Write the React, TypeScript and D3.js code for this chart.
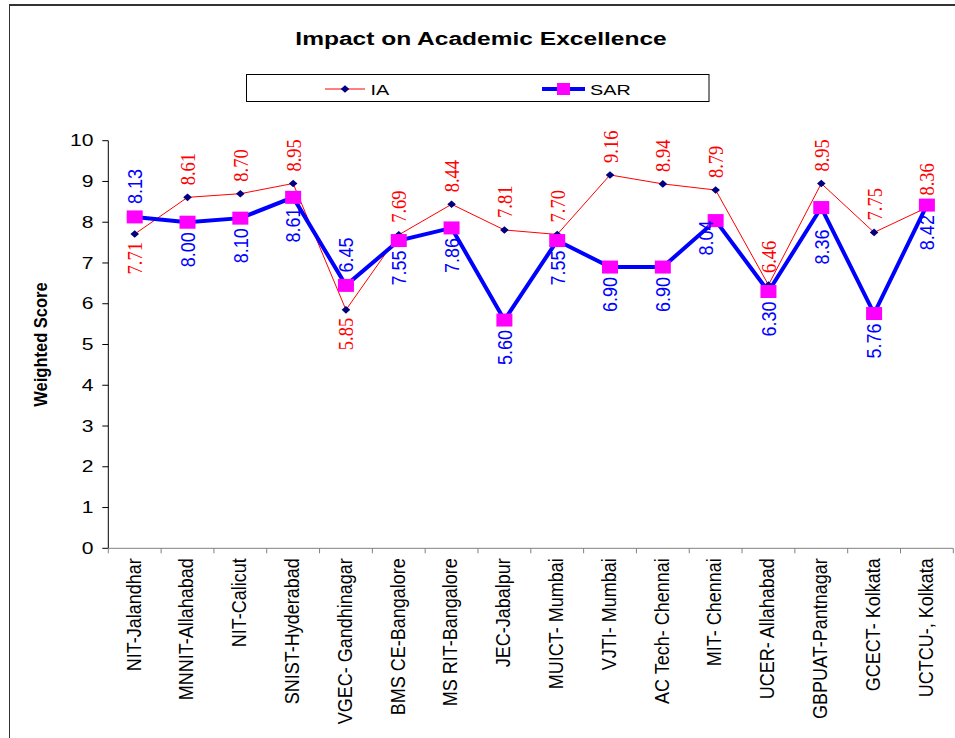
import React from "react";
import * as d3 from "d3";

const categories = [
  "NIT-Jalandhar",
  "MNNIT-Allahabad",
  "NIT-Calicut",
  "SNIST-Hyderabad",
  "VGEC- Gandhinagar",
  "BMS CE-Bangalore",
  "MS RIT-Bangalore",
  "JEC-Jabalpur",
  "MUICT- Mumbai",
  "VJTI- Mumbai",
  "AC Tech- Chennai",
  "MIT- Chennai",
  "UCER- Allahabad",
  "GBPUAT-Pantnagar",
  "GCECT- Kolkata",
  "UCTCU-, Kolkata",
];
const iaValues = [7.71, 8.61, 8.7, 8.95, 5.85, 7.69, 8.44, 7.81, 7.7, 9.16, 8.94, 8.79, 6.46, 8.95, 7.75, 8.36];
const sarValues = [8.13, 8.0, 8.1, 8.61, 6.45, 7.55, 7.86, 5.6, 7.55, 6.9, 6.9, 8.04, 6.3, 8.36, 5.76, 8.42];
const iaLabelSide = ["below", "above", "above", "above", "below", "above", "above", "above", "above", "above", "above", "above", "above", "above", "above", "above"];
const sarLabelSide = ["above", "below", "below", "below", "above", "below", "below", "below", "below", "below", "below", "belowLeft", "below", "belowFar", "below", "below"];
const yTicks = [0, 1, 2, 3, 4, 5, 6, 7, 8, 9, 10];

const SANS = "'Liberation Sans', Arial, sans-serif";
const SERIF = "'Liberation Serif', 'Times New Roman', serif";

export default function App() {
  const W = 955;
  const H = 738;
  const left = 108.3;
  const right = 953.3;
  const top = 140.7;
  const bottom = 548.3;

  const x = d3.scaleBand<string>().domain(categories).range([left, right]).padding(0);
  const y = d3.scaleLinear().domain([0, 10]).range([bottom, top]);
  const cx = (i: number) => (x(categories[i]) as number) + x.bandwidth() / 2;

  const line = d3
    .line<number>()
    .x((_, i) => cx(i))
    .y((d) => y(d));

  const HS = 1.16; // glyph stretch for rotated text
  const HX = 1.32; // horizontal stretch for horizontal text

  const diamond = (px: number, py: number) =>
    `M${px},${py - 3.8}L${px + 4.3},${py}L${px},${py + 3.8}L${px - 4.3},${py}Z`;

  const rotText = (
    key: string,
    px: number,
    py: number,
    txt: string,
    anchor: "start" | "end",
    fill: string,
    family: string,
    size: number,
    weight = "normal"
  ) => (
    <text
      key={key}
      transform={`translate(${px},${py}) rotate(-90) scale(1,${HS})`}
      textAnchor={anchor}
      dy="0.35em"
      fill={fill}
      fontFamily={family}
      fontSize={size}
      fontWeight={weight}
    >
      {txt}
    </text>
  );

  return (
    <svg
      width={W}
      height={H}
      style={{ position: "absolute", left: 0, top: 0, background: "#fff" }}
    >
      {/* outer frame */}
      <line x1={9} y1={5} x2={W} y2={5} stroke="#333" strokeWidth={2} />
      <line x1={9.5} y1={5} x2={9.5} y2={H} stroke="#333" strokeWidth={1} />

      {/* title */}
      <text
        transform={`translate(481,45) scale(${HX},1)`}
        textAnchor="middle"
        fontFamily={SANS}
        fontWeight="bold"
        fontSize={18.6}
        fill="#000"
      >
        Impact on Academic Excellence
      </text>

      {/* legend */}
      <rect x={246.5} y={74.5} width={462.5} height={27} fill="#fff" stroke="#000" strokeWidth={1} />
      <line x1={325} y1={89} x2={365} y2={89} stroke="#ff0000" strokeWidth={1} />
      <path d={diamond(345, 89)} fill="#000080" />
      <text transform={`translate(370.5,94.5) scale(${HX},1)`} fontFamily={SANS} fontSize={15} fill="#000">
        IA
      </text>
      <line x1={542} y1={89} x2={585} y2={89} stroke="#0000ff" strokeWidth={4} />
      <rect x={557} y={83} width={13} height={12} fill="#ff00ff" />
      <text transform={`translate(590,94.5) scale(${HX},1)`} fontFamily={SANS} fontSize={15} fill="#000">
        SAR
      </text>

      {/* y axis */}
      <line x1={left} y1={top} x2={left} y2={bottom} stroke="#000" strokeWidth={1} />
      {yTicks.map((t) => (
        <g key={"yt" + t}>
          <line x1={left - 6} y1={y(t)} x2={left} y2={y(t)} stroke="#000" strokeWidth={1} />
          <text
            transform={`translate(93.5,${y(t)}) scale(${HX},1)`}
            textAnchor="end"
            dy="0.35em"
            fontFamily={SANS}
            fontSize={16}
            fill="#000"
          >
            {t}
          </text>
        </g>
      ))}
      <text
        transform={`translate(40,${(top + bottom) / 2}) rotate(-90) scale(1,${HS})`}
        textAnchor="middle"
        dy="0.35em"
        fontFamily={SANS}
        fontWeight="bold"
        fontSize={16.5}
        fill="#000"
      >
        Weighted Score
      </text>

      {/* x axis */}
      <line x1={left} y1={bottom} x2={right} y2={bottom} stroke="#808080" strokeWidth={1} />
      {categories.map((c, i) => (
        <line
          key={"xt" + i}
          x1={(x(c) as number)}
          x2={(x(c) as number)}
          y1={bottom}
          y2={bottom + 5}
          stroke="#808080"
          strokeWidth={1}
        />
      ))}
      <line x1={right} x2={right} y1={bottom} y2={bottom + 5} stroke="#808080" strokeWidth={1} />
      {categories.map((c, i) =>
        rotText("xl" + i, cx(i) - 1.5, bottom + 10, c, "end", "#000", SANS, 18)
      )}

      {/* IA series */}
      <path d={line(iaValues) || ""} fill="none" stroke="#ff0000" strokeWidth={1} />
      {iaValues.map((v, i) => (
        <path key={"iam" + i} d={diamond(cx(i), y(v))} fill="#000080" />
      ))}

      {/* SAR series */}
      <path d={line(sarValues) || ""} fill="none" stroke="#0000ff" strokeWidth={4} strokeLinejoin="miter" />
      {sarValues.map((v, i) => (
        <rect key={"sarm" + i} x={cx(i) - 8} y={y(v) - 6.5} width={16} height={13} fill="#ff00ff" />
      ))}

      {/* IA labels */}
      {iaValues.map((v, i) => {
        const side = iaLabelSide[i];
        const py = y(v);
        return side === "above"
          ? rotText("ial" + i, cx(i), py - 12, v.toFixed(2), "start", "#ff0000", SERIF, 18.5)
          : rotText("ial" + i, cx(i), py + 8, v.toFixed(2), "end", "#ff0000", SERIF, 18.5);
      })}

      {/* SAR labels */}
      {sarValues.map((v, i) => {
        const side = sarLabelSide[i];
        const py = y(v);
        if (side === "above")
          return rotText("sal" + i, cx(i), py - 13, v.toFixed(2), "start", "#0000ff", SANS, 18);
        if (side === "belowLeft")
          return rotText("sal" + i, cx(i) - 10, py, v.toFixed(2), "end", "#0000ff", SANS, 18);
        if (side === "belowFar")
          return rotText("sal" + i, cx(i), py + 22, v.toFixed(2), "end", "#0000ff", SANS, 18);
        return rotText("sal" + i, cx(i), py + 10, v.toFixed(2), "end", "#0000ff", SANS, 18);
      })}
    </svg>
  );
}
